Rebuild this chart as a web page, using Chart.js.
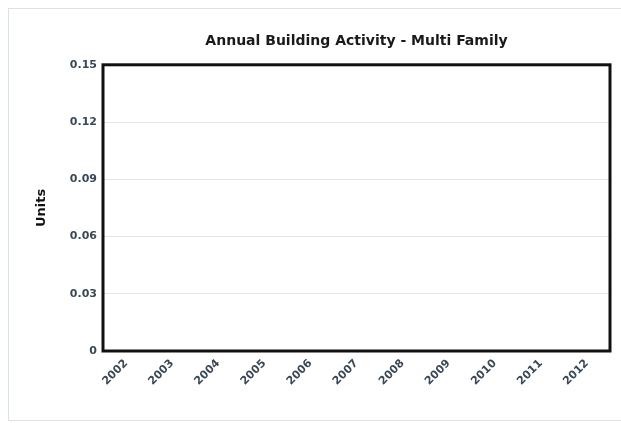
<!DOCTYPE html>
<html>
<head>
<meta charset="utf-8">
<script src="https://cdn.jsdelivr.net/npm/chart.js@4/dist/chart.umd.min.js"></script>
<style>
  html, body { margin: 0; padding: 0; background: #fff; }
  #wrap { position: relative; width: 621px; height: 423px; overflow: hidden; }
  #frame { position: absolute; left: 8px; top: 8px; width: 640px; height: 413px;
           border: 1px solid #d6e2ec; box-sizing: border-box; pointer-events: none; }
  canvas { position: absolute; left: 0; top: 0; }
</style>
</head>
<body>
<div id="wrap">
  <canvas id="barChart" width="621" height="423"></canvas>
  <div id="frame"></div>
</div>
<script>
const years = ['2002', '2003', '2004', '2005', '2006', '2007', '2008', '2009', '2010', '2011', '2012'];
const units = [0, 0, 0, 0, 0, 0, 0, 0, 0, 0, 0];
const yTicks = [0, 0.03, 0.06, 0.09, 0.12, 0.15];

// heavy black box around the plot area
const plotBox = {
    id: 'plotBox',
    afterDraw(chart) {
        const a = chart.chartArea, ctx = chart.ctx;
        ctx.save();
        ctx.strokeStyle = '#111';
        ctx.lineWidth = 3;
        ctx.strokeRect(a.left, a.top, a.right - a.left, a.bottom - a.top);
        ctx.restore();
    }
};

new Chart(document.getElementById('barChart'), {
    type: 'bar',
    data: {
        labels: years,
        datasets: [
            {
                label: 'Units',
                data: units,
                backgroundColor: '#5b7fa6',
            }
        ]
    },
    options: {
        responsive: false,
        animation: false,
        layout: { padding: { left: 30, right: 11, top: 0, bottom: 0 } },
        plugins: {
            legend: { display: false },
            tooltip: { enabled: false },
            title: {
                display: true,
                text: 'Annual Building Activity - Multi Family',
                fullSize: false,
                color: '#1a1a1a',
                font: { family: 'DejaVu Sans', size: 14, weight: 'bold' },
                padding: { top: 33, bottom: 15 }
            }
        },
        scales: {
            x: {
                grid: { display: false, drawTicks: false },
                border: { display: false },
                ticks: {
                    color: '#3a4856',
                    font: { family: 'DejaVu Sans', size: 11, weight: 'bold' },
                    minRotation: 45,
                    maxRotation: 45,
                    padding: 6
                },
                afterFit(scale) { scale.height = 72; }
            },
            y: {
                min: 0,
                max: 0.15,
                grid: { color: '#dde7f0', drawTicks: false },
                border: { display: false },
                afterBuildTicks(scale) { scale.ticks = yTicks.map(v => ({ value: v })); },
                ticks: {
                    color: '#3a4856',
                    font: { family: 'DejaVu Sans', size: 11, weight: 'bold' },
                    padding: 6,
                    callback: v => v === 0 ? '0' : v.toFixed(2)
                },
                title: {
                    display: true,
                    text: 'Units',
                    color: '#111',
                    font: { family: 'DejaVu Sans', size: 13, weight: 'bold' },
                    padding: { top: 4, bottom: 0 }
                },
                afterFit(scale) { scale.width = 73; }
            }
        }
    },
    plugins: [plotBox]
});
</script>
</body>
</html>
